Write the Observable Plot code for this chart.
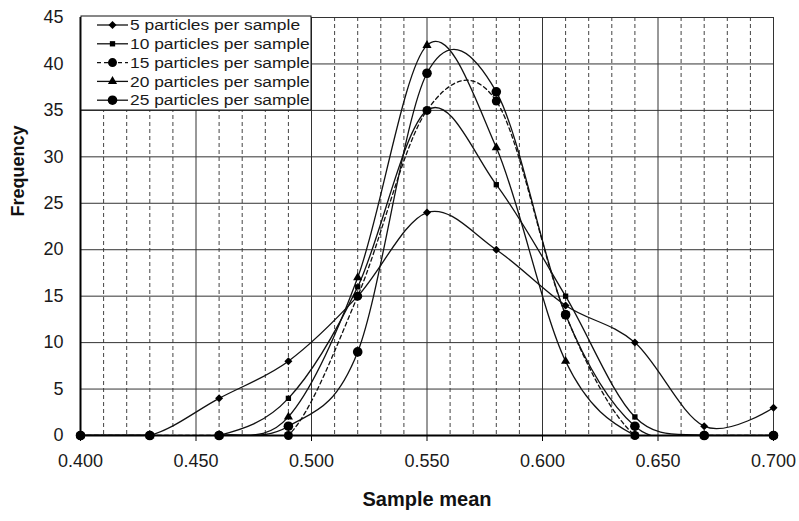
<!DOCTYPE html>
<html>
<head>
<meta charset="utf-8">
<script src="https://cdn.jsdelivr.net/npm/d3@7"></script>
<script src="https://cdn.jsdelivr.net/npm/@observablehq/plot@0.6"></script>
<style>
  body { margin: 0; background: #fff; }
  svg { font-family: "Liberation Sans", Arial, sans-serif; }
</style>
</head>
<body>
<div id="chart"></div>
<script>
// Sample means (bin centres) on the x axis
const sampleMeans = [0.40, 0.43, 0.46, 0.49, 0.52, 0.55, 0.58, 0.61, 0.64, 0.67, 0.70];

// Frequencies for each sample size
const freq5  = [0, 0, 4, 8, 15, 24, 20, 14, 10, 1, 3];
const freq10 = [0, 0, 0, 4, 16, 35, 27, 15, 2, 0, 0];
const freq15 = [0, 0, 0, 0, 15, 35, 36, 13, 0, 0, 0];
const freq20 = [0, 0, 0, 2, 17, 42, 31, 8, 0, 0, 0];
const freq25 = [0, 0, 0, 1, 9, 39, 37, 13, 1, 0, 0];

const seriesNames = [
  "5 particles per sample",
  "10 particles per sample",
  "15 particles per sample",
  "20 particles per sample",
  "25 particles per sample"
];

// Axis ticks
const xTicks = [0.40, 0.45, 0.50, 0.55, 0.60, 0.65, 0.70];
const xMinorTicks = [0.41, 0.42, 0.43, 0.44, 0.46, 0.47, 0.48, 0.49, 0.51, 0.52, 0.53, 0.54,
                     0.56, 0.57, 0.58, 0.59, 0.61, 0.62, 0.63, 0.64, 0.66, 0.67, 0.68, 0.69];
const yTicks = [0, 5, 10, 15, 20, 25, 30, 35, 40, 45];

// Per-series styling: marker symbol, marker radius, dash pattern
const styles = [
  { symbol: "diamond2", r: 3.6, dash: null },
  { symbol: "square",   r: 3.0, dash: null },
  { symbol: "circle",   r: 4.5, dash: "4,3" },
  { symbol: "triangle", r: 3.4, dash: null },
  { symbol: "circle",   r: 4.8, dash: null }
];

const allFreqs = [freq5, freq10, freq15, freq20, freq25];
const series = allFreqs.map((f, i) => ({
  name: seriesNames[i],
  style: styles[i],
  data: sampleMeans.map((x, j) => ({ x, y: f[j] }))
}));

// Excel-like smoothed line: uniform Catmull–Rom
const smooth = d3.curveCatmullRom.alpha(0);

const fontFamily = '"Liberation Sans", Arial, sans-serif';

const marks = [
  Plot.gridX(xMinorTicks, { stroke: "#444", strokeOpacity: 1, strokeDasharray: "4,3", strokeWidth: 1 }),
  Plot.gridX(xTicks, { stroke: "#333", strokeOpacity: 1, strokeWidth: 1 }),
  Plot.gridY(yTicks, { stroke: "#333", strokeOpacity: 1, strokeWidth: 1 }),
  Plot.axisX(xTicks, {
    tickFormat: d3.format(".3f"), tickSize: 6, tickPadding: 13,
    fontSize: 18, stroke: "#000", color: "#1a1a1a", label: null
  }),
  Plot.axisY(yTicks, {
    tickSize: 0, tickPadding: 17, fontSize: 18, color: "#1a1a1a", label: null
  }),
  Plot.text(["Sample mean"], {
    frameAnchor: "bottom", dy: 70, fontSize: 20, fontWeight: "bold", fill: "#111"
  }),
  Plot.text(["Frequency"], {
    frameAnchor: "left", dx: -62, dy: -10, rotate: -90, fontSize: 18, fontWeight: "bold", fill: "#111"
  })
];

for (const s of series) {
  marks.push(Plot.line(s.data, {
    x: "x", y: "y", curve: smooth, stroke: "#111", strokeWidth: 1.3,
    strokeDasharray: s.style.dash, clip: true
  }));
}

marks.push(Plot.ruleX([0.40], { stroke: "#000", strokeWidth: 2 }));
marks.push(Plot.ruleY([0], { stroke: "#000", strokeWidth: 2 }));

for (const s of series) {
  marks.push(Plot.dot(s.data, {
    x: "x", y: "y", symbol: s.style.symbol, r: s.style.r, fill: "#000", stroke: "none"
  }));
}

const chart = Plot.plot({
  width: 799,
  height: 521,
  marginLeft: 80,
  marginRight: 26,
  marginTop: 17,
  marginBottom: 86,
  style: { fontFamily, background: "#fff" },
  x: { domain: [0.40, 0.70] },
  y: { domain: [0, 45] },
  marks
});

// Legend box in the upper-left corner of the plot area
const svg = d3.select(chart);
const legend = svg.append("g").attr("transform", "translate(81,16)");
legend.append("rect")
  .attr("width", 230).attr("height", 94)
  .attr("fill", "#fff").attr("stroke", "#111").attr("stroke-width", 1);

const symbolTypes = {
  diamond2: d3.symbolDiamond2, square: d3.symbolSquare,
  circle: d3.symbolCircle, triangle: d3.symbolTriangle
};

series.forEach((s, i) => {
  const y = 9 + i * 18.8;
  const row = legend.append("g").attr("transform", `translate(0,${y})`);
  row.append("line")
    .attr("x1", 16).attr("x2", 47).attr("y1", 0).attr("y2", 0)
    .attr("stroke", "#111").attr("stroke-width", 1.3)
    .attr("stroke-dasharray", s.style.dash);
  row.append("path")
    .attr("transform", "translate(31.5,0)")
    .attr("d", d3.symbol(symbolTypes[s.style.symbol], Math.PI * s.style.r * s.style.r)())
    .attr("fill", "#000");
  // legend labels are set slightly wide
  row.append("text")
    .attr("transform", "translate(49,0) scale(1.2,1)")
    .attr("dy", "0.36em")
    .attr("text-anchor", "start")
    .attr("font-size", 14.5).attr("fill", "#1a1a1a")
    .attr("font-family", fontFamily)
    .text(s.name);
});

document.getElementById("chart").appendChild(chart);
</script>
</body>
</html>
